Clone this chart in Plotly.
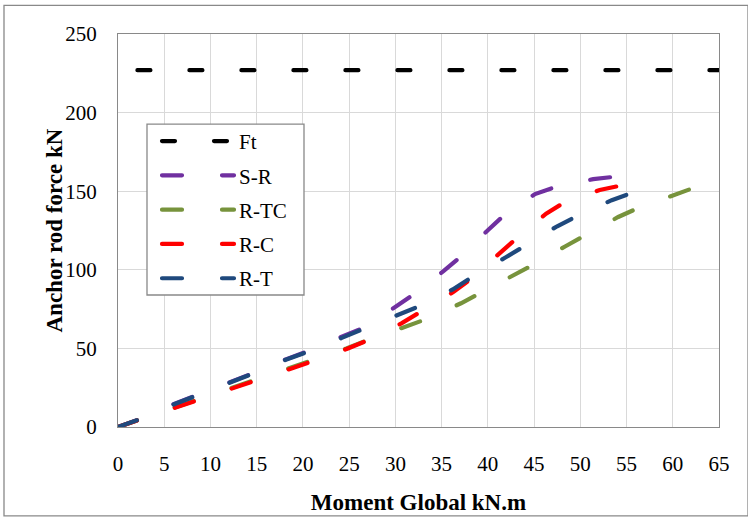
import plotly.graph_objects as go

# ---- data ----
ft_x = [2.1, 65.0]
ft_y = [227.0, 227.0]

sr_x = [0, 2.3, 6.0, 8.35, 12.1, 14.5, 18.15, 20.5, 24.2, 26.6, 29.9, 31.9, 35.2, 37.0, 40.0, 41.7, 45.1, 47.3, 51.4, 53.6]
sr_y = [0, 4.9, 14.5, 19.8, 28.8, 34.0, 43.0, 48.2, 57.4, 63.3, 76.0, 84.0, 99.1, 108.0, 125.2, 134.4, 148.2, 152.6, 157.7, 159.1]

rtc_x = [0, 2.3, 6.15, 8.5, 12.25, 14.65, 18.5, 20.85, 24.7, 26.9, 30.9, 33.2, 37.1, 39.1, 42.75, 44.7, 48.4, 50.5, 54.1, 56.3, 60.1, 62.4]
rtc_y = [0, 4.6, 12.4, 17.3, 25.0, 29.6, 37.2, 42.2, 50.0, 55.0, 63.0, 68.3, 78.7, 85.0, 96.2, 102.6, 115.0, 121.9, 133.6, 139.4, 147.8, 152.4]

rc_x = [0, 2.3, 6.17, 8.5, 12.3, 14.7, 18.6, 20.9, 24.8, 27.0, 30.7, 32.7, 36.3, 38.0, 41.3, 43.0, 46.3, 48.2, 52.1, 54.5]
rc_y = [0, 4.5, 12.1, 17.0, 24.3, 28.9, 36.4, 41.5, 49.8, 55.1, 66.1, 73.1, 86.0, 93.4, 110.7, 119.5, 135.7, 142.6, 150.8, 153.7]

rt_x = [0, 2.3, 6.0, 8.35, 12.1, 14.5, 18.15, 20.5, 24.2, 26.6, 30.4, 32.5, 36.2, 38.2, 41.9, 43.85, 47.5, 49.6, 53.4, 55.6]
rt_y = [0, 4.8, 14.3, 19.5, 28.5, 33.7, 42.8, 47.8, 56.7, 62.4, 71.4, 76.6, 87.5, 95.0, 107.8, 114.8, 127.7, 134.0, 144.3, 148.9]

x_ticks = list(range(0, 70, 5))
y_ticks = list(range(0, 300, 50))

series = [
    ("Ft", ft_x, ft_y, "#000000", "13px,39px"),
    ("S-R", sr_x, sr_y, "#7030A0", "20px,40px"),
    ("R-TC", rtc_x, rtc_y, "#77933C", "20px,40px"),
    ("R-C", rc_x, rc_y, "#FF0000", "20px,40px"),
    ("R-T", rt_x, rt_y, "#1F497D", "20px,40px"),
]

fig = go.Figure()
for i, (name, xs, ys, col, dash) in enumerate(series):
    fig.add_trace(go.Scatter(
        x=xs, y=ys, name=name, mode="lines",
        line=dict(color=col, width=4.2, dash=dash),
        legendgroup=f"g{i}",
    ))

font_family = "Liberation Serif, Times New Roman, serif"
PW, PH = 601.0, 398.0  # plot area size in px

fig.update_layout(
    width=748, height=522,
    margin=dict(l=118, r=29, t=34, b=90),
    paper_bgcolor="white", plot_bgcolor="white",
    font=dict(family=font_family, color="black", size=21),
    showlegend=True,
    legend=dict(
        x=(157 - 118) / PW, y=(431.7 - 121.7) / PH, xanchor="left", yanchor="top",
        bgcolor="rgba(0,0,0,0)", borderwidth=0,
        font=dict(family=font_family, size=21, color="black"),
        itemwidth=72, tracegroupgap=4, traceorder="grouped",
    ),
    xaxis=dict(
        range=[0, 65], tickvals=x_ticks, ticktext=[str(v) for v in x_ticks],
        showgrid=True, gridcolor="#D9D9D9", gridwidth=1.3,
        showline=True, linecolor="#898989", linewidth=1.3, mirror=True,
        ticks="", ticklabelstandoff=18, zeroline=False,
        tickfont=dict(family=font_family, size=21),
        title=dict(text="<b>Moment Global kN.m</b>", font=dict(family=font_family, size=23), standoff=18),
    ),
    yaxis=dict(
        range=[0, 250], tickvals=y_ticks, ticktext=[str(v) for v in y_ticks],
        showgrid=True, gridcolor="#D9D9D9", gridwidth=1.3,
        showline=True, linecolor="#898989", linewidth=1.3, mirror=True,
        ticks="", ticklabelstandoff=16, zeroline=False,
        tickfont=dict(family=font_family, size=21),
    ),
    annotations=[dict(
        text="<b>Anchor rod force kN</b>", xref="paper", yref="paper",
        x=(54 - 118) / PW, y=0.5, xanchor="center", yanchor="middle",
        textangle=-90, showarrow=False,
        font=dict(family=font_family, size=23, color="black"),
    )],
)

# legend frame (white box with grey border)
fig.add_shape(type="rect", xref="paper", yref="paper",
              x0=(147 - 118) / PW, x1=(304 - 118) / PW,
              y0=(431.7 - 298) / PH, y1=(431.7 - 125) / PH,
              line=dict(color="#898989", width=1.3), fillcolor="white", layer="above")

# outer chart-area border
fig.add_shape(type="rect", xref="paper", yref="paper",
              x0=-114/PW, x1=1 + 29/PW, y0=-90/PH, y1=1 + 29/PH,
              line=dict(color="#898989", width=1.3), layer="below")

post = """
var gd = document.querySelector('.plotly-graph-div');
function caps(){
  document.querySelectorAll('path.js-line').forEach(function(p){
    p.style.strokeLinecap='round';
  });
}
caps();
if (gd && gd.on) { gd.on('plotly_afterplot', caps); }
"""
fig.write_html("out.html", post_script=post)
